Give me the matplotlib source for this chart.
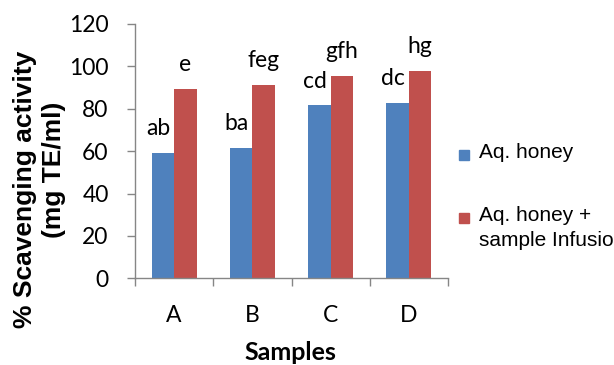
import matplotlib
matplotlib.use("Agg")
import matplotlib.pyplot as plt
from matplotlib.patches import Rectangle
import numpy as np

categories = ["A", "B", "C", "D"]
series_names = ["Aq. honey", "Aq. honey +\nsample Infusion"]
aq_honey = [59.3, 61.6, 81.6, 82.9]
aq_honey_infusion = [89.2, 91.2, 95.3, 98.0]
labels_honey = ["ab", "ba", "cd", "dc"]
labels_infusion = ["e", "feg", "gfh", "hg"]
colors = ["#4F81BD", "#C0504D"]

fig = plt.figure(figsize=(6.14, 3.65), dpi=100)
ax = fig.add_axes([135/614, 1-278.3/365, (448-135)/614, (278.3-24)/365])

x = np.arange(len(categories))
w = 0.288
ax.bar(x - w/2, aq_honey, w, color=colors[0], zorder=2)
ax.bar(x + w/2, aq_honey_infusion, w, color=colors[1], zorder=2)

lab_font = dict(family="Lato", fontsize=16.5, color="black")
for i in range(len(categories)):
    ax.text(x[i] - w/2 - 0.055, aq_honey[i] + 11.5, labels_honey[i], ha="center", va="center", **lab_font)
    ax.text(x[i] + w/2, aq_honey_infusion[i] + 11.5, labels_infusion[i], ha="center", va="center", **lab_font)

ax.set_xlim(-0.5, len(categories) - 0.5)
ax.set_ylim(0, 120)
ax.set_yticks(np.arange(0, 121, 20))
ax.set_xticks(x)
ax.set_xticklabels(categories, family="Lato", fontsize=16.5)
ax.set_xticks(np.arange(-0.5, len(categories), 1), minor=True)
ax.tick_params(axis="x", which="major", length=0, pad=19)
ax.tick_params(axis="x", which="minor", length=6, color="#868686", width=1)
ax.tick_params(axis="y", length=6, color="#868686", width=1, pad=13)
for t in ax.get_yticklabels():
    t.set_family("Lato")
    t.set_fontsize(16.5)

for s in ["top", "right"]:
    ax.spines[s].set_visible(False)
for s in ["left", "bottom"]:
    ax.spines[s].set_color("#868686")
    ax.spines[s].set_linewidth(1)

fig.text(290/614, 1-353/365, "Samples", ha="center", va="center",
         family="Lato", fontweight="bold", fontsize=18)
fig.text(25/614, 1-189/365, "% Scavenging activity", rotation=90, ha="center", va="center",
         family="Liberation Sans", fontweight="bold", fontsize=19)
fig.text(54/614, 1-170/365, "(mg TE/ml)", rotation=90, ha="center", va="center",
         family="Liberation Sans", fontweight="bold", fontsize=19)

# legend
leg_y = [155, 218]
for name, c, yy in zip(series_names, colors, leg_y):
    fig.patches.append(Rectangle((459/614, 1-(yy+5)/365), 10/614, 10/365,
                                 transform=fig.transFigure, color=c))
    fig.text(479/614, 1-(yy-12)/365, name, ha="left", va="top",
             family="Liberation Sans", fontsize=15, linespacing=1.38)

fig.savefig("out.png", dpi=100)
